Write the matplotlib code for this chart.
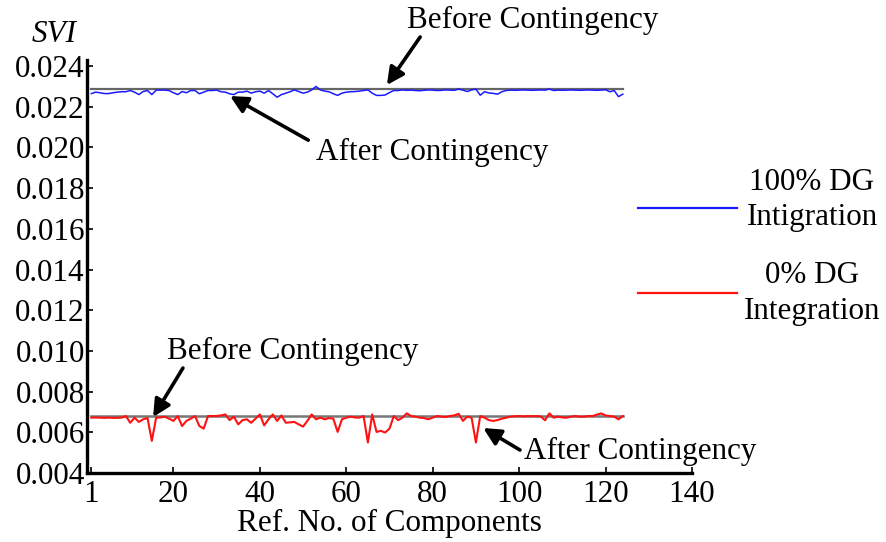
import matplotlib
matplotlib.use('Agg')
import matplotlib.pyplot as plt
from matplotlib.lines import Line2D
import numpy as np

## data
comp = np.arange(1, 125)

svi_dg100_before = 0.02285
svi_dg0_before = 0.0068

svi_dg100_after = [
    0.02265, 0.02272, 0.02269, 0.02265, 0.02265, 0.02269, 0.02272, 0.02274, 0.02274, 0.0228,
    0.02272, 0.0226, 0.02275, 0.0228, 0.0226, 0.02282, 0.02282, 0.02282, 0.0228, 0.02269,
    0.0226, 0.02275, 0.02269, 0.0228, 0.0228, 0.02264, 0.02272, 0.0228, 0.0228, 0.02282,
    0.02274, 0.02272, 0.02264, 0.0226, 0.02272, 0.02272, 0.02277, 0.02267, 0.02274, 0.02277,
    0.02267, 0.0228, 0.02264, 0.02247, 0.0226, 0.02267, 0.02274, 0.02283, 0.02275, 0.02267,
    0.02272, 0.02283, 0.0230, 0.02283, 0.02277, 0.02274, 0.02264, 0.02256, 0.02267, 0.02272,
    0.02274, 0.02275, 0.02277, 0.0228, 0.02283, 0.02267, 0.02256, 0.02256, 0.02258, 0.0227,
    0.0228, 0.0228, 0.02283, 0.02281, 0.02282, 0.0228, 0.02279, 0.02281, 0.02283, 0.02282,
    0.0228, 0.02281, 0.02283, 0.02282, 0.02281, 0.02287, 0.02282, 0.02275, 0.02283, 0.02287,
    0.02257, 0.02274, 0.02268, 0.02266, 0.02262, 0.02274, 0.0228, 0.02282, 0.02281, 0.02282,
    0.02283, 0.02282, 0.02281, 0.02282, 0.02283, 0.02282, 0.02287, 0.0228, 0.02282, 0.02281,
    0.02282, 0.02283, 0.02282, 0.02281, 0.02282, 0.02283, 0.02282, 0.02281, 0.02282, 0.02284,
    0.02274, 0.0228, 0.0225, 0.02262]

svi_dg0_after = [
    0.00672, 0.00673, 0.00672, 0.00671, 0.00672, 0.00671, 0.00671, 0.00672, 0.0068, 0.00647,
    0.00672, 0.00651, 0.00664, 0.0067, 0.00558, 0.00672, 0.00673, 0.00677, 0.00667, 0.00656,
    0.0068, 0.00631, 0.00656, 0.00667, 0.0068, 0.00631, 0.00618, 0.0068, 0.0068, 0.0068,
    0.00683, 0.00688, 0.0066, 0.00677, 0.00639, 0.0066, 0.00664, 0.00647, 0.00667, 0.00688,
    0.00634, 0.00664, 0.00688, 0.00656, 0.00683, 0.00647, 0.00649, 0.00651, 0.00639, 0.00628,
    0.00656, 0.00688, 0.00664, 0.00672, 0.00664, 0.0067, 0.00667, 0.00602, 0.00664, 0.00672,
    0.00677, 0.00673, 0.00672, 0.0068, 0.0055, 0.00688, 0.00602, 0.00607, 0.00599, 0.00618,
    0.0068, 0.0066, 0.00672, 0.00693, 0.0068, 0.00677, 0.00672, 0.0067, 0.00664, 0.00672,
    0.0068, 0.00677, 0.00675, 0.0068, 0.00683, 0.00691, 0.00656, 0.00677, 0.00672, 0.0055,
    0.0068, 0.00672, 0.0066, 0.00656, 0.0066, 0.00667, 0.00672, 0.00677, 0.00679, 0.0068,
    0.00678, 0.0068, 0.00679, 0.0068, 0.00678, 0.00659, 0.00693, 0.00672, 0.00677, 0.00673,
    0.00672, 0.00677, 0.0068, 0.00677, 0.00677, 0.0068, 0.0068, 0.00687, 0.00693, 0.00683,
    0.0068, 0.00677, 0.00664, 0.0068]

series_labels = ['100% DG\nIntigration', '0% DG\nIntegration']
series_colors = ['#1a1aff', '#ff1111']

x_ticks = [1, 20, 40, 60, 80, 100, 120, 140]
y_ticks = [0.004, 0.006, 0.008, 0.010, 0.012, 0.014, 0.016, 0.018, 0.020, 0.022, 0.024]

plt.rcParams['font.family'] = 'Liberation Serif'
plt.rcParams['font.size'] = 22.4

fig = plt.figure(figsize=(8.87, 5.42), dpi=100)
ax = fig.add_axes([0.0981, 0.1273, 0.682, 0.762])

before_100 = [svi_dg100_before] * len(comp)
before_0 = [svi_dg0_before] * len(comp)

ax.plot(comp, svi_dg100_after, color=series_colors[0], lw=1.1, zorder=3)
ax.plot(comp, before_100, color='#666666', lw=1.6, zorder=2)
ax.plot(comp, svi_dg0_after, color=series_colors[1], lw=1.5, zorder=3)
ax.plot(comp, before_0, color='#777777', lw=1.8, zorder=2)

ax.set_xlim(0, 140)
ax.set_ylim(0.004, 0.0243)
ax.set_xticks(x_ticks)
ax.set_yticks(y_ticks)
ax.set_yticklabels([f'{v:.3f}' for v in y_ticks])

for s in ['top', 'right']:
    ax.spines[s].set_visible(False)
for s in ['left', 'bottom']:
    ax.spines[s].set_linewidth(2.4)
ax.tick_params(direction='in', length=4, width=1.2, pad=1.5)
ax.tick_params(axis='x', pad=5)

ax.set_xlabel('Ref. No. of Components', labelpad=0)
fig.text(0.061, 0.936, 'SVI', style='italic', ha='center', va='center')

## annotations
arrow = dict(arrowstyle='-|>', color='black', lw=2.6, mutation_scale=26, shrinkA=0, shrinkB=0)

ax.text(103.2, 0.02626, 'Before Contingency', ha='center', va='center', clip_on=False)
ax.annotate('', xy=(69.4, 0.02307), xytext=(77.1, 0.02543), arrowprops=arrow, annotation_clip=False)

ax.text(52.9, 0.01977, 'After Contingency', ha='left', va='center')
ax.annotate('', xy=(33.1, 0.02253), xytext=(51.2, 0.02036), arrowprops=arrow)

ax.text(18.5, 0.00995, 'Before Contingency', ha='left', va='center')
ax.annotate('', xy=(15.3, 0.00675), xytext=(22.2, 0.00916), arrowprops=arrow)

ax.text(101.2, 0.00508, 'After Contingency', ha='left', va='center', clip_on=False)
ax.annotate('', xy=(91.7, 0.00621), xytext=(100.2, 0.00513), arrowprops=arrow)

## legend drawn by hand (line sits below the two-line label centre, as in the original)
leg_line_y = [0.6162, 0.4594]
leg_text_y = [0.631, 0.4585]
for lab, col, ly, ty in zip(series_labels, series_colors, leg_line_y, leg_text_y):
    fig.add_artist(Line2D([0.7193, 0.8309], [ly, ly], color=col, lw=1.6, transform=fig.transFigure))
    fig.text(0.9155, ty, lab, ha='center', va='center', multialignment='center', linespacing=1.3)

fig.savefig('out.png', dpi=100)
